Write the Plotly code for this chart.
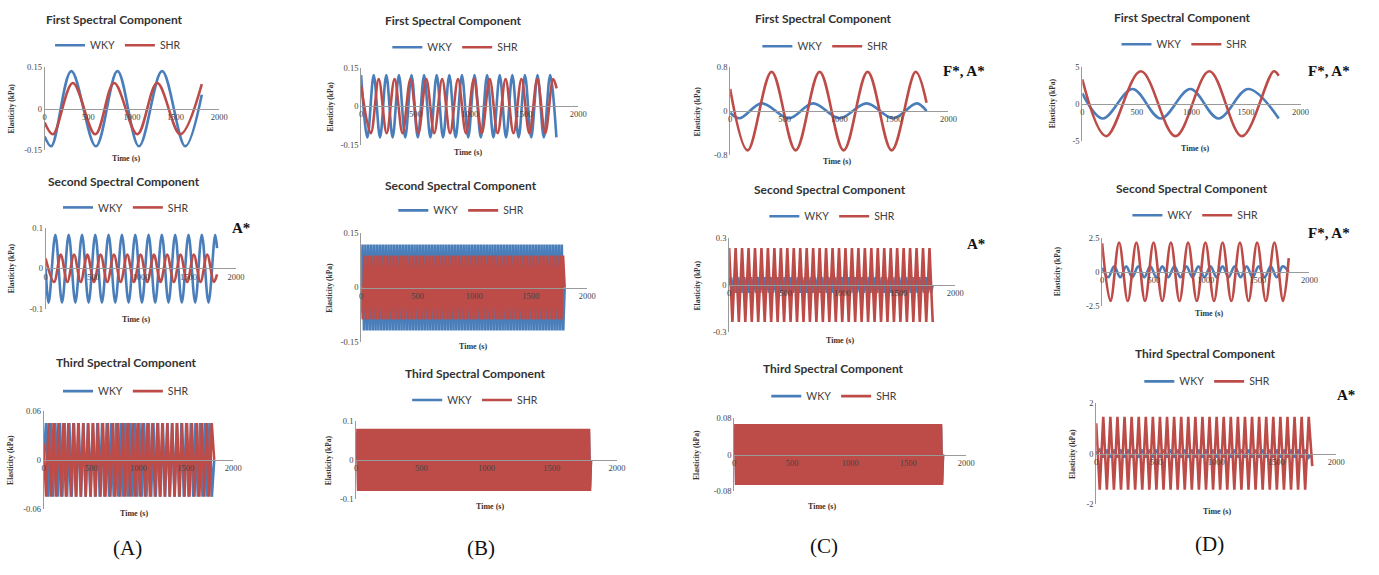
import numpy as np
import plotly.graph_objects as go

# ====================== DATA ======================
# Sparse panels: extrema / end points  (time in s, elasticity in kPa)
A1_WKY_T = [0, 76, 305, 587, 834, 1080, 1345, 1610, 1800]
A1_WKY_Y = [-0.10, -0.135, 0.135, -0.135, 0.135, -0.135, 0.135, -0.135, 0.05]
A1_SHR_T = [0, 95, 322, 580, 796, 1061, 1289, 1554, 1800]
A1_SHR_Y = [-0.05, -0.092, 0.092, -0.092, 0.092, -0.092, 0.092, -0.092, 0.088]

A2_WKY_T = [0, 32, 102, 172, 242, 312, 382, 451, 521, 591, 661, 731, 801, 871, 941,
            1011, 1081, 1150, 1220, 1290, 1360, 1430, 1500, 1570, 1640, 1710, 1780, 1800]
A2_WKY_Y = [0.0] + [-0.085, 0.083] * 13 + [0.05]
A2_SHR_T = [0, 88, 158, 228, 298, 368, 438, 507, 577, 647, 717, 787, 857, 927, 997,
            1067, 1137, 1206, 1276, 1346, 1416, 1486, 1556, 1626, 1696, 1766, 1800]
A2_SHR_Y = [0.024] + [-0.034, 0.034] * 12 + [-0.034, -0.015]

B1_WKY_T = [0, 58, 116, 174, 232, 290, 348, 406, 464, 522, 580, 638, 696, 754, 812, 870,
            928, 986, 1044, 1102, 1160, 1218, 1276, 1334, 1392, 1450, 1508, 1566, 1624,
            1682, 1740, 1798]
B1_WKY_Y = [0.122, -0.122] * 16
B1_SHR_T = [0, 89, 162, 235, 308, 381, 454, 527, 600, 673, 746, 819, 892, 965, 1038,
            1111, 1184, 1257, 1330, 1403, 1476, 1549, 1622, 1695, 1768, 1800]
B1_SHR_Y = [0.08] + [-0.106, 0.106] * 12 + [0.07]

C1_WKY_T = [0, 85, 290, 540, 760, 1004, 1250, 1495, 1710, 1800]
C1_WKY_Y = [-0.03, -0.13, 0.14, -0.13, 0.14, -0.13, 0.14, -0.13, 0.14, 0.0]
C1_SHR_T = [0, 160, 380, 600, 820, 1040, 1260, 1480, 1700, 1800]
C1_SHR_Y = [0.40, -0.71, 0.71, -0.71, 0.71, -0.71, 0.71, -0.71, 0.71, 0.15]

D1_WKY_T = [0, 188, 460, 718, 990, 1248, 1520, 1800]
D1_WKY_Y = [1.4, -2.0, 2.0, -2.0, 2.0, -2.0, 2.0, -2.0]
D1_SHR_T = [0, 218, 536, 854, 1164, 1463, 1754, 1800]
D1_SHR_Y = [3.3, -4.4, 4.4, -4.4, 4.4, -4.4, 4.4, 3.8]

D2_SHR_T = [0, 80, 163, 247, 330, 413, 496, 580, 663, 746, 829, 913, 996, 1079, 1162,
            1246, 1329, 1412, 1495, 1579, 1662, 1745, 1800]
D2_SHR_Y = [2.1] + [-2.16, 2.16] * 10 + [-2.16, 1.0]

# Dense panels: successive extrema, evenly spread over the recorded 0-1800 s
D2_WKY_Y = [0.3] + [-0.4, 0.4] * 15 + [0.0]
A3_WKY_Y = [0.0] + [0.045, -0.045] * 36 + [0.0]
A3_SHR_Y = [0.02] + [-0.045, 0.045] * 34 + [0.0]
B2_WKY_Y = [0.0] + [0.118, -0.118] * 70 + [0.0]
B2_SHR_Y = [0.0] + [-0.088, 0.088] * 62 + [0.0]
B3_WKY_Y = [0.0] + [0.07, -0.07] * 112 + [0.0]
B3_SHR_Y = [0.0] + [0.079, -0.079] * 120 + [0.0]
C2_WKY_Y = [0.0] + [0.05, -0.05] * 60 + [0.0]
C2_SHR_Y = [0.235, -0.235] * 32
C3_WKY_Y = [0.0] + [0.06, -0.06] * 100 + [0.0]
C3_SHR_Y = [0.0] + [0.066, -0.066] * 106 + [0.0]
D3_WKY_Y = [0.0] + [0.15, -0.15] * 30 + [0.0]
D3_SHR_Y = [1.2] + [-1.43, 1.45] * 30 + [-0.5]
RECORD_SPAN = [0, 1800]

SERIES = ["WKY", "SHR"]
PANEL_TITLES = ["First Spectral Component", "Second Spectral Component", "Third Spectral Component"]
Y_LIMITS = [0.15, 0.1, 0.06, 0.15, 0.15, 0.1, 0.8, 0.3, 0.08, 5, 2.5, 2]
Y_LIMIT_TEXT = ["0.15", "0.1", "0.06", "0.15", "0.15", "0.1", "0.8", "0.3", "0.08", "5", "2.5", "2"]
X_TICKS = [0, 500, 1000, 1500, 2000]
X_MAX = 2000
GROUP_LABELS = ["(A)", "(B)", "(C)", "(D)"]
SIGNIF = {1: "A*", 6: "F*, A*", 7: "A*", 9: "F*, A*", 10: "F*, A*", 11: "A*"}


def dense(vals):
    return list(np.linspace(RECORD_SPAN[0], RECORD_SPAN[1], len(vals))), vals


DATA = [
    ((A1_WKY_T, A1_WKY_Y), (A1_SHR_T, A1_SHR_Y)),
    ((A2_WKY_T, A2_WKY_Y), (A2_SHR_T, A2_SHR_Y)),
    (dense(A3_WKY_Y), dense(A3_SHR_Y)),
    ((B1_WKY_T, B1_WKY_Y), (B1_SHR_T, B1_SHR_Y)),
    (dense(B2_WKY_Y), dense(B2_SHR_Y)),
    (dense(B3_WKY_Y), dense(B3_SHR_Y)),
    ((C1_WKY_T, C1_WKY_Y), (C1_SHR_T, C1_SHR_Y)),
    (dense(C2_WKY_Y), dense(C2_SHR_Y)),
    (dense(C3_WKY_Y), dense(C3_SHR_Y)),
    ((D1_WKY_T, D1_WKY_Y), (D1_SHR_T, D1_SHR_Y)),
    (dense(D2_WKY_Y), (D2_SHR_T, D2_SHR_Y)),
    (dense(D3_WKY_Y), dense(D3_SHR_Y)),
]
SPARSE = {0, 1, 3, 6, 9, 10}

# ====================== LAYOUT (pixel geometry) ======================
W, H = 1379, 575
# x(t=0), x(t=2000), y(top), y(bottom), title(x,y), legend(x,y), time-title(x,y), y-title x
GEOM = [
    (43, 219, 63, 148, (113, 15), (117, 41), (125, 156), 10),
    (44, 236, 227, 309, (123, 180), (125, 206), (135, 320), 9),
    (42, 233, 413, 513, (125, 364), (125, 393), (133, 518), 9),
    (362, 581, 64, 142, (455, 16), (457, 43), (470, 150), 331),
    (362, 590, 232, 343, (463, 184), (463, 209), (475, 348), 330),
    (357, 620, 423, 503, (477, 375), (477, 402), (492, 510), 330),
    (734, 954, 63, 153, (828, 14), (830, 42), (842, 159), 701),
    (733, 961, 237, 333, (835, 188), (837, 215), (845, 341), 701),
    (738, 972, 420, 495, (838, 370), (839, 398), (827, 510), 700),
    (1089, 1309, 63, 138, (1190, 13), (1192, 40), (1203, 146), 1059),
    (1109, 1318, 237, 306, (1200, 187), (1203, 214), (1217, 314), 1064),
    (1103, 1345, 405, 508, (1213, 355), (1215, 383), (1225, 515), 1079),
]
SIGNIF_POS = {1: (241, 227), 6: (970, 67), 7: (982, 243), 9: (1338, 67), 10: (1338, 232), 11: (1355, 397)}
GROUP_POS = [(127, 553), (483, 553), (829, 551), (1217, 549)]

COLORS = {"WKY": "#4a7eba", "SHR": "#bd4c48"}
AXIS_COLOR = "#9a9a9a"
SERIF = "Liberation Serif"
SANS = "Lato"

fig = go.Figure()
layout = dict(
    width=W, height=H, margin=dict(l=0, r=0, t=0, b=0),
    paper_bgcolor="white", plot_bgcolor="white", showlegend=True,
)
annotations = []

for i, (geo, pair) in enumerate(zip(GEOM, DATA)):
    x0, x1, yt, yb, tpos, lpos, timepos, ytx = geo
    n = i + 1
    sfx = "" if n == 1 else str(n)
    xa, ya = "x" + sfx, "y" + sfx
    lg = "legend" + sfx
    ymax = Y_LIMITS[i]
    for name, (tt, yy) in zip(SERIES, pair):
        fig.add_trace(go.Scatter(
            x=tt, y=yy, mode="lines", name=name, xaxis=xa, yaxis=ya, legend=lg,
            line=dict(color=COLORS[name], width=2.6,
                      shape="spline" if i in SPARSE else "linear"),
            hoverinfo="skip",
        ))
    ymid = 1 - (yt + yb) / 2 / H
    layout["xaxis" + sfx] = dict(
        domain=[x0 / W, x1 / W], range=[0, X_MAX], anchor="free", position=ymid,
        showline=True, linecolor=AXIS_COLOR, linewidth=1, showgrid=False, zeroline=False,
        tickvals=X_TICKS, ticks="", tickfont=dict(family=SERIF, size=8.5, color="#444444"),
        fixedrange=True,
    )
    layout["yaxis" + sfx] = dict(
        domain=[1 - yb / H, 1 - yt / H], range=[-ymax, ymax], anchor=xa,
        showline=True, linecolor=AXIS_COLOR, linewidth=1, showgrid=False, zeroline=False,
        tickvals=[-ymax, 0, ymax], ticktext=["-" + Y_LIMIT_TEXT[i], "0", Y_LIMIT_TEXT[i]],
        ticks="", tickfont=dict(family=SERIF, size=8.5, color="#444444"), fixedrange=True,
    )
    layout[lg] = dict(
        x=lpos[0] / W, y=1 - lpos[1] / H, xanchor="center", yanchor="middle",
        orientation="h", bgcolor="rgba(0,0,0,0)", itemwidth=30, tracegroupgap=0,
        font=dict(family=SANS, size=10.5, color="#404040"),
    )
    annotations.append(dict(
        text="<b>" + PANEL_TITLES[i % 3] + "</b>", x=tpos[0] / W, y=1 - tpos[1] / H,
        xref="paper", yref="paper", showarrow=False, xanchor="center", yanchor="middle",
        font=dict(family=SANS, size=12, color="#333333"),
    ))
    annotations.append(dict(
        text="<b>Time (s)</b>", x=timepos[0] / W, y=1 - timepos[1] / H,
        xref="paper", yref="paper", showarrow=False, xanchor="center", yanchor="middle",
        font=dict(family=SERIF, size=8, color="#333333"),
    ))
    annotations.append(dict(
        text="<b>Elasticity (kPa)</b>", x=ytx / W, y=ymid, textangle=-90,
        xref="paper", yref="paper", showarrow=False, xanchor="center", yanchor="middle",
        font=dict(family=SERIF, size=7.5, color="#333333"),
    ))

for k, txt in SIGNIF.items():
    px, py = SIGNIF_POS[k]
    annotations.append(dict(
        text="<b>" + txt + "</b>", x=px / W, y=1 - py / H, xref="paper", yref="paper",
        showarrow=False, xanchor="center", yanchor="middle",
        font=dict(family=SERIF, size=15, color="#111111"),
    ))
for txt, (px, py) in zip(GROUP_LABELS, GROUP_POS):
    annotations.append(dict(
        text=txt, x=px / W, y=1 - py / H, xref="paper", yref="paper",
        showarrow=False, xanchor="center", yanchor="middle",
        font=dict(family=SERIF, size=21, color="#111111"),
    ))

layout["annotations"] = annotations
fig.update_layout(**layout)
fig.write_html("out.html")
